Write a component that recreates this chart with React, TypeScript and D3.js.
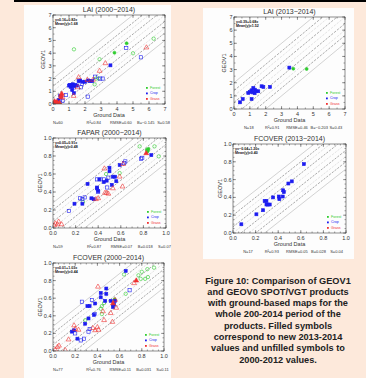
import * as d3 from "d3";

// [ground, geov1, filled]
type Pt = [number, number, number];

const laiAllForest: Pt[] = [
  [1.31, 4.3, 0], [2.91, 3.52, 0], [5.0, 3.99, 0], [6.29, 5.14, 0], [2.7, 2.0, 0],
  [2.6, 1.55, 0], [2.85, 2.0, 0], [4.6, 4.78, 1], [3.84, 4.04, 1],
];
const laiAllCrop: Pt[] = [
  [1.0, 1.45, 1], [1.05, 1.5, 1], [1.1, 1.35, 1], [1.15, 1.5, 1], [1.2, 1.45, 1], [1.25, 1.55, 1],
  [1.3, 1.4, 1], [1.4, 1.5, 1], [1.5, 1.45, 1], [1.6, 1.8, 1], [1.7, 1.85, 1], [1.85, 1.75, 1],
  [2.0, 1.75, 1], [2.2, 1.85, 1], [2.3, 1.8, 1], [2.45, 1.8, 1], [1.2, 1.1, 1], [0.5, 0.6, 1],
  [0.35, 0.3, 1], [0.45, 0.65, 1], [3.59, 3.04, 1], [1.3, 0.85, 1],
  [0.45, 0.3, 0], [0.6, 0.25, 0], [0.8, 0.7, 0], [1.75, 1.31, 0], [2.17, 0.58, 0], [2.64, 2.15, 0],
  [2.95, 2.0, 0], [3.1, 2.0, 0], [5.49, 3.67, 0], [4.58, 4.41, 0], [1.8, 1.6, 0], [1.3, 1.3, 0],
];
const laiAllGrass: Pt[] = [
  [3.27, 3.2, 0], [2.91, 2.6, 0], [5.84, 4.44, 0], [1.6, 2.1, 0], [2.15, 1.89, 0], [1.54, 1.31, 0],
  [1.29, 0.63, 0], [0.49, 0.7, 0], [0.6, 0.5, 0], [2.5, 1.9, 0],
  [0.05, 0.05, 1], [0.1, 0.1, 1], [0.15, 0.05, 1], [0.2, 0.1, 1], [0.3, 0.05, 1], [0.1, 0.2, 1],
  [0.25, 0.15, 1], [0.4, 0.1, 1], [0.5, 0.55, 1], [0.55, 0.8, 1],
];

const fapAllForest: Pt[] = [
  [0.767, 0.907, 0], [0.936, 0.796, 0], [0.898, 0.907, 0], [0.47, 0.6, 0], [0.59, 0.61, 0],
  [0.265, 0.29, 0], [0.83, 0.87, 1], [0.84, 0.86, 1], [0.835, 0.85, 1], [0.845, 0.88, 1],
];
const fapAllCrop: Pt[] = [
  [0.306, 0.49, 1], [0.19, 0.27, 1], [0.26, 0.27, 1], [0.34, 0.33, 1], [0.36, 0.32, 1],
  [0.39, 0.44, 1], [0.4, 0.41, 1], [0.41, 0.54, 1], [0.475, 0.526, 1], [0.5, 0.67, 1],
  [0.5, 0.63, 1], [0.53, 0.57, 1], [0.52, 0.48, 1], [0.55, 0.57, 1], [0.56, 0.52, 1],
  [0.59, 0.7, 1], [0.87, 0.81, 1], [0.39, 0.45, 1], [0.45, 0.51, 1],
  [0.39, 0.54, 0], [0.42, 0.54, 0], [0.45, 0.54, 0], [0.48, 0.45, 0], [0.49, 0.56, 0],
  [0.64, 0.74, 0], [0.63, 0.72, 0], [0.78, 0.77, 0], [0.79, 0.78, 0], [0.14, 0.19, 0],
  [0.24, 0.33, 0], [0.26, 0.32, 0], [0.28, 0.34, 0], [0.4, 0.4, 0],
];
const fapAllGrass: Pt[] = [
  [0.455, 0.66, 0], [0.59, 0.57, 0], [0.62, 0.71, 0], [0.53, 0.44, 0], [0.475, 0.39, 0],
  [0.49, 0.38, 0], [0.615, 0.46, 0], [0.4, 0.33, 0], [0.38, 0.32, 0], [0.46, 0.39, 0],
  [0.04, 0.04, 0], [0.05, 0.07, 0], [0.076, 0.04, 0], [0.02, 0.05, 0], [0.01, 0.03, 0],
  [0.825, 0.83, 1],
];

const fcoAllForest: Pt[] = [
  [0.91, 0.947, 0], [0.85, 0.93, 0], [0.8, 0.9, 0], [0.77, 0.86, 0], [0.79, 0.82, 0],
  [0.83, 0.82, 0], [0.855, 0.84, 0], [0.64, 0.87, 0], [0.655, 0.65, 0], [0.545, 0.557, 0],
  [0.46, 0.545, 0], [0.44, 0.51, 0], [0.43, 0.48, 0], [0.44, 0.42, 0], [0.29, 0.35, 0],
  [0.555, 0.587, 1], [0.54, 0.52, 1],
];
const fcoAllCrop: Pt[] = [
  [0.655, 0.91, 1], [0.48, 0.71, 1], [0.43, 0.66, 1], [0.43, 0.61, 1], [0.48, 0.65, 1],
  [0.47, 0.57, 1], [0.38, 0.54, 1], [0.33, 0.51, 1], [0.31, 0.51, 1], [0.37, 0.41, 1],
  [0.32, 0.37, 1], [0.29, 0.31, 1], [0.19, 0.235, 1], [0.17, 0.22, 1], [0.22, 0.14, 1],
  [0.55, 0.53, 1], [0.54, 0.5, 1], [0.52, 0.57, 1], [0.56, 0.57, 1],
  [0.26, 0.56, 0], [0.35, 0.58, 0], [0.375, 0.42, 0], [0.69, 0.69, 0], [0.25, 0.12, 0],
  [0.28, 0.14, 0], [0.2, 0.2, 0], [0.32, 0.22, 0], [0.33, 0.25, 0],
];
const fcoAllGrass: Pt[] = [
  [0.405, 0.73, 0], [0.73, 0.77, 0], [0.56, 0.58, 0], [0.57, 0.49, 0], [0.52, 0.43, 0],
  [0.45, 0.45, 0], [0.535, 0.33, 0], [0.46, 0.35, 0], [0.4, 0.27, 0], [0.41, 0.24, 0],
  [0.38, 0.235, 0], [0.36, 0.26, 0], [0.19, 0.29, 0], [0.2, 0.25, 0], [0.23, 0.24, 0],
  [0.14, 0.13, 0], [0.11, 0.01, 0], [0.054, 0.06, 0], [0.04, 0.045, 0], [0.02, 0.015, 0],
  [0.54, 0.54, 1], [0.75, 0.8, 1],
];

const lai13Forest: Pt[] = [[3.74, 3.07, 1], [4.58, 3.05, 1]];
const lai13Crop: Pt[] = [
  [0.38, 0.51, 1], [0.55, 0.76, 1], [0.9, 1.22, 1], [1.11, 1.42, 1], [1.18, 1.27, 1],
  [1.32, 1.47, 1], [1.39, 1.35, 1], [1.11, 0.76, 1], [1.53, 1.35, 1], [1.74, 1.73, 1],
  [1.85, 1.68, 1], [2.27, 1.68, 1], [1.22, 1.6, 1], [3.49, 3.15, 1], [1.0, 1.3, 1],
  [1.3, 1.2, 1],
];
const lai13Grass: Pt[] = [];

const fco13Forest: Pt[] = [];
const fco13Crop: Pt[] = [
  [0.074, 0.098, 1], [0.207, 0.21, 1], [0.266, 0.256, 1], [0.28, 0.36, 1], [0.296, 0.36, 1],
  [0.296, 0.32, 1], [0.31, 0.32, 1], [0.325, 0.32, 1], [0.355, 0.4, 1], [0.405, 0.41, 1],
  [0.41, 0.38, 1], [0.44, 0.41, 1], [0.444, 0.48, 1], [0.45, 0.46, 1], [0.49, 0.556, 1],
  [0.52, 0.58, 1], [0.627, 0.774, 1],
];
const fco13Grass: Pt[] = [];

const laiTicks = [0, 1, 2, 3, 4, 5, 6, 7];
const fracTicks = [0, 0.2, 0.4, 0.6, 0.8, 1.0];

// offsets of the reference lines parallel to 1:1
const laiOffsets = [0.5, 1.0, 1.4, 2.0];
const fracOffsets = [0.07, 0.14, 0.2, 0.28];
const lineKinds = ["dk", "dg", "dk", "sg"];

const GREEN = "#2ecc2e";
const BLUE = "#1c1cf0";
const RED = "#f03030";
const FONT = "Liberation Sans, Arial, sans-serif";
const INK = "#333";

interface Panel {
  title: string;
  x0: number; y0: number; w: number; h: number;
  max: number; ticks: number[]; minor: number; fmt: (v: number) => string;
  fit: string; mean: string;
  stats: string[]; statPos: number[];
  forest: Pt[]; crop: Pt[]; grass: Pt[];
  offsets: number[];
}

const leftPos = [0, 0.3, 0.51, 0.75, 0.93];
const rightPos = [0.09, 0.28, 0.47, 0.69, 0.86];

const panels: Panel[] = [
  {
    title: "LAI (2000\u22122014)", x0: 53, y0: 15, w: 112, h: 89, max: 7, ticks: laiTicks, minor: 0.5,
    fmt: (v) => d3.format("d")(v), fit: "y=0.16+0.82x", mean: "Mean(y)=1.68",
    stats: ["N=60", "R\u00b2=0.84", "RMSE=0.60", "B=\u22120.145", "S=0.58"], statPos: leftPos,
    forest: laiAllForest, crop: laiAllCrop, grass: laiAllGrass, offsets: laiOffsets,
  },
  {
    title: "FAPAR (2000\u22122014)", x0: 53, y0: 138, w: 113, h: 90, max: 1, ticks: fracTicks, minor: 0.05,
    fmt: (v) => d3.format(".1f")(v), fit: "y=0.05+0.91x", mean: "Mean(y)=0.48",
    stats: ["N=59", "R\u00b2=0.87", "RMSE=0.07", "B=0.018", "S=0.07"], statPos: leftPos,
    forest: fapAllForest, crop: fapAllCrop, grass: fapAllGrass, offsets: fracOffsets,
  },
  {
    title: "FCOVER (2000\u22122014)", x0: 53, y0: 263, w: 111, h: 88, max: 1, ticks: fracTicks, minor: 0.05,
    fmt: (v) => d3.format(".1f")(v), fit: "y=0.01+1.03x", mean: "Mean(y)=0.44",
    stats: ["N=77", "R\u00b2=0.76", "RMSE=0.11", "B=0.031", "S=0.11"], statPos: leftPos,
    forest: fcoAllForest, crop: fcoAllCrop, grass: fcoAllGrass, offsets: fracOffsets,
  },
  {
    title: "LAI (2013\u22122014)", x0: 234, y0: 17, w: 111, h: 92, max: 7, ticks: laiTicks, minor: 0.5,
    fmt: (v) => d3.format("d")(v), fit: "y=0.39+0.68x", mean: "Mean(y)=1.52",
    stats: ["N=18", "R\u00b2=0.91", "RMSE=0.46", "B=\u22120.203", "S=0.43"], statPos: rightPos,
    forest: lai13Forest, crop: lai13Crop, grass: lai13Grass, offsets: laiOffsets,
  },
  {
    title: "FCOVER (2013\u22122014)", x0: 233, y0: 144, w: 113, h: 89, max: 1, ticks: fracTicks, minor: 0.05,
    fmt: (v) => d3.format(".1f")(v), fit: "y=\u22120.04+1.20x", mean: "Mean(y)=0.40",
    stats: ["N=17", "R\u00b2=0.93", "RMSE=0.05", "B=0.028", "S=0.04"], statPos: rightPos,
    forest: fco13Forest, crop: fco13Crop, grass: fco13Grass, offsets: fracOffsets,
  },
];

const captionLines = [
  "Figure 10: Comparison of GEOV1",
  "and GEOV0 SPOT/VGT products",
  "with ground-based maps for the",
  "whole 200-2014 period of the",
  "products. Filled symbols",
  "correspond to new 2013-2014",
  "values and unfilled symbols to",
  "2000-2012 values.",
];

function lineStyle(kind: string) {
  if (kind === "sg") return { stroke: "#b5b5b5", strokeWidth: 0.6, dash: undefined };
  if (kind === "dk") return { stroke: "#222", strokeWidth: 0.7, dash: "0.7,1.3" };
  return { stroke: "#aaa", strokeWidth: 0.6, dash: "0.7,1.3" };
}

function Chart({ p, idx }: { p: Panel; idx: number }) {
  const x = d3.scaleLinear().domain([0, p.max]).range([p.x0, p.x0 + p.w]);
  const y = d3.scaleLinear().domain([0, p.max]).range([p.y0 + p.h, p.y0]);
  const minorTicks = d3.range(0, p.max + 1e-9, p.minor);
  const line = d3.line<[number, number]>().x((d) => x(d[0])).y((d) => y(d[1]));
  const clipId = `clip${idx}`;
  const refs: { pts: [number, number][]; kind: string }[] = [
    { pts: [[0, 0], [p.max, p.max]], kind: "dg" },
  ];
  p.offsets.forEach((o, k) => {
    const kind = lineKinds[k];
    refs.push({ pts: [[-p.max, -p.max + o], [2 * p.max, 2 * p.max + o]], kind });
    refs.push({ pts: [[-p.max, -p.max - o], [2 * p.max, 2 * p.max - o]], kind });
  });
  const right = p.x0 + p.w;
  const bottom = p.y0 + p.h;
  const cx = p.x0 + p.w / 2;

  const marker = (d: Pt, kind: string, color: string, i: number) => {
    const px = x(d[0]);
    const py = y(d[1]);
    const fill = d[2] ? color : "none";
    if (kind === "forest") {
      return <circle key={kind + i} cx={px} cy={py} r={d[2] ? 1.5 : 1.7} fill={fill} stroke={color} strokeWidth={0.6} />;
    }
    if (kind === "crop") {
      const s = d[2] ? 3 : 3.2;
      return <rect key={kind + i} x={px - s / 2} y={py - s / 2} width={s} height={s} fill={fill} stroke={color} strokeWidth={0.6} />;
    }
    const tri = d3.symbol(d3.symbolTriangle, 10)();
    return <path key={kind + i} d={tri ?? ""} transform={`translate(${px},${py})`} fill={fill} stroke={color} strokeWidth={0.6} />;
  };

  return (
    <g>
      <defs>
        <clipPath id={clipId}>
          <rect x={p.x0} y={p.y0} width={p.w} height={p.h} />
        </clipPath>
      </defs>
      <text x={cx} y={p.y0 - 3} textAnchor="middle" fontSize={7} fontFamily={FONT} fill={INK}>
        {p.title}
      </text>
      <g clipPath={`url(#${clipId})`}>
        {refs.map((r, i) => {
          const s = lineStyle(r.kind);
          return (
            <path key={i} d={line(r.pts) ?? ""} fill="none" stroke={s.stroke} strokeWidth={s.strokeWidth} strokeDasharray={s.dash} />
          );
        })}
        {p.forest.map((d, i) => marker(d, "forest", GREEN, i))}
        {p.crop.map((d, i) => marker(d, "crop", BLUE, i))}
        {p.grass.map((d, i) => marker(d, "grass", RED, i))}
      </g>
      <rect x={p.x0} y={p.y0} width={p.w} height={p.h} fill="none" stroke="#444" strokeWidth={0.6} />
      {minorTicks.map((t, i) => (
        <g key={"m" + i} stroke="#444" strokeWidth={0.5}>
          <line x1={x(t)} x2={x(t)} y1={bottom} y2={bottom - 1.5} />
          <line x1={x(t)} x2={x(t)} y1={p.y0} y2={p.y0 + 1.5} />
          <line x1={p.x0} x2={p.x0 + 1.5} y1={y(t)} y2={y(t)} />
          <line x1={right} x2={right - 1.5} y1={y(t)} y2={y(t)} />
        </g>
      ))}
      {p.ticks.map((t, i) => (
        <g key={"t" + i}>
          <g stroke="#444" strokeWidth={0.5}>
            <line x1={x(t)} x2={x(t)} y1={bottom} y2={bottom - 3} />
            <line x1={x(t)} x2={x(t)} y1={p.y0} y2={p.y0 + 3} />
            <line x1={p.x0} x2={p.x0 + 3} y1={y(t)} y2={y(t)} />
            <line x1={right} x2={right - 3} y1={y(t)} y2={y(t)} />
          </g>
          <text x={x(t)} y={bottom + 6.5} textAnchor="middle" fontSize={5.5} fontFamily={FONT} fill={INK}>
            {p.fmt(t)}
          </text>
          <text x={p.x0 - 1.5} y={y(t) + 2} textAnchor="end" fontSize={5.5} fontFamily={FONT} fill={INK}>
            {p.fmt(t)}
          </text>
        </g>
      ))}
      <text x={cx} y={bottom + 12.5} textAnchor="middle" fontSize={5.5} fontFamily={FONT} fill={INK}>
        Ground Data
      </text>
      <text
        transform={`translate(${p.x0 - (p.max > 1 ? 8 : 11)},${p.y0 + p.h / 2}) rotate(-90)`}
        textAnchor="middle" fontSize={5.5} fontFamily={FONT} fill={INK}
      >
        GEOV1
      </text>
      <text x={p.x0 + 2} y={p.y0 + 5.5} fontSize={3.6} fontFamily={FONT} fill="#111" fontWeight="bold">
        {p.fit}
      </text>
      <text x={p.x0 + 2} y={p.y0 + 10} fontSize={3.6} fontFamily={FONT} fill="#111" fontWeight="bold">
        {p.mean}
      </text>
      {p.stats.map((s, i) => (
        <text key={"s" + i} x={p.x0 + p.statPos[i] * p.w} y={bottom + 19.5} fontSize={4} fontFamily={FONT} fill={INK}>
          {s}
        </text>
      ))}
      {[
        ["Forest", GREEN],
        ["Crop", BLUE],
        ["Grass", RED],
      ].map(([name, c], i) => (
        <g key={name}>
          <rect x={right - 19} y={bottom - 17 + i * 5.5} width={1.8} height={1.8} fill={c} />
          <text x={right - 15} y={bottom - 15.3 + i * 5.5} fontSize={3.6} fontFamily={FONT} fill={c}>
            {name}
          </text>
        </g>
      ))}
    </g>
  );
}

export default function App() {
  return (
    <svg width={366} height={378} style={{ position: "absolute", left: 0, top: 0 }}>
      <rect x={0} y={0} width={366} height={378} fill="#fde9db" />
      <rect x={14} y={0} width={352} height={2} fill="#000" />
      <rect x={24} y={5} width={147} height={373} fill="#fdfdfd" />
      <rect x={203} y={8} width={151} height={251} fill="#fdfdfd" />
      {panels.map((p, i) => (
        <Chart key={i} p={p} idx={i} />
      ))}
      {captionLines.map((l, i) => (
        <text key={i} x={278} y={283.5 + i * 11.3} textAnchor="middle" fontSize={9.2} fontWeight="bold" fontFamily={FONT} fill="#222">
          {l}
        </text>
      ))}
    </svg>
  );
}
